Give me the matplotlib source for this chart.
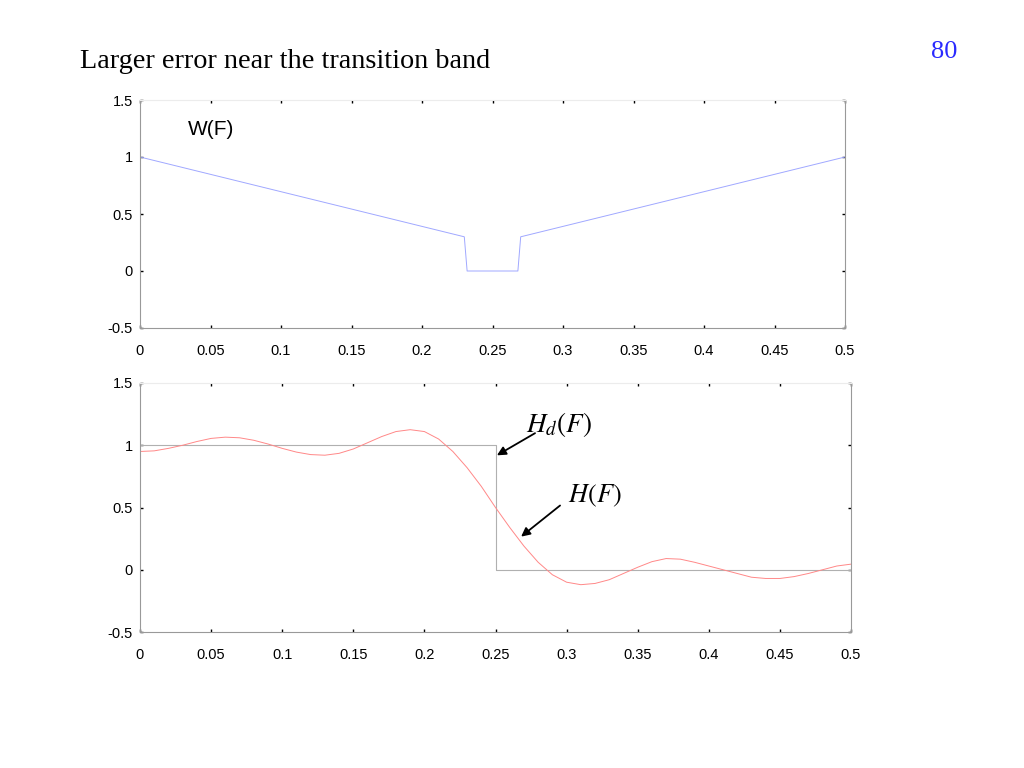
import matplotlib.pyplot as plt
import numpy as np

plt.rcParams['mathtext.fontset'] = 'stix'

# W(F) weighting function
w_f = [0.0, 0.23, 0.232, 0.268, 0.27, 0.5]
w_val = [1.0, 0.3, 0.0, 0.0, 0.3, 1.0]

# desired response Hd(F)
hd_f = [0.0, 0.25, 0.25, 0.5]
hd_val = [1.0, 1.0, 0.0, 0.0]

# designed response H(F), read at 0.01 steps
h_f = [i / 100. for i in range(51)]
h_val = [0.95, 0.955, 0.975, 1.00, 1.03, 1.055, 1.065, 1.06, 1.04, 1.01,
         0.975, 0.945, 0.925, 0.92, 0.935, 0.97, 1.02, 1.07, 1.11, 1.125,
         1.11, 1.05, 0.95, 0.82, 0.67, 0.50, 0.34, 0.19, 0.06, -0.04,
         -0.10, -0.12, -0.11, -0.08, -0.03, 0.02, 0.065, 0.09, 0.085, 0.06,
         0.03, 0.0, -0.03, -0.06, -0.07, -0.07, -0.055, -0.03, 0.0, 0.03,
         0.045]

xticks = [0, 0.05, 0.1, 0.15, 0.2, 0.25, 0.3, 0.35, 0.4, 0.45, 0.5]
xlabels = ['0', '0.05', '0.1', '0.15', '0.2', '0.25', '0.3', '0.35', '0.4', '0.45', '0.5']
yticks = [-0.5, 0, 0.5, 1, 1.5]
ylabels = ['-0.5', '0', '0.5', '1', '1.5']


def style_axes(ax):
    ax.set_xlim(0, 0.5)
    ax.set_ylim(-0.5, 1.5)
    ax.set_xticks(xticks)
    ax.set_xticklabels(xlabels, family='Liberation Sans', fontsize=10.5)
    ax.set_yticks(yticks)
    ax.set_yticklabels(ylabels, family='Liberation Sans', fontsize=10.5)
    ax.tick_params(direction='in', length=2.5, width=1, top=True, right=True,
                   colors='black')
    ax.tick_params(axis='x', pad=11.5)
    ax.tick_params(axis='y', pad=5)
    for s in ['left', 'bottom', 'right']:
        ax.spines[s].set_color('#999999')
    ax.spines['top'].set_color('#ececec')


fig = plt.figure(figsize=(10.24, 7.68), dpi=100)

fig.text(80 / 1024, 1 - 61 / 768, 'Larger error near the transition band',
         family='Liberation Serif', fontsize=20.3, va='center', ha='left')
fig.text(944 / 1024, 1 - 52 / 768, '80', family='Liberation Serif',
         fontsize=19, color='#2a2aff', va='center', ha='center')

ax1 = fig.add_axes([140 / 1024, 1 - 328 / 768, 705 / 1024, 228 / 768])
ax1.plot(w_f, w_val, color='#a0a8ff', lw=0.7)
style_axes(ax1)
ax1.text(0.034, 1.24, 'W(F)', family='Liberation Sans', fontsize=15,
         va='center')

ax2 = fig.add_axes([140 / 1024, 1 - 632 / 768, 711 / 1024, 249 / 768])
ax2.plot(hd_f, hd_val, color='#b0b0b0', lw=0.8)
ax2.plot(h_f, h_val, color='#ff8888', lw=0.7)
style_axes(ax2)

ax2.text(0.2947, 1.17, '$H_d(F)$', fontsize=19.5, ha='center', va='center')
ax2.annotate('', xy=(0.251, 0.919), xytext=(0.2778, 1.097),
             arrowprops=dict(arrowstyle='-|>', color='black', lw=1.3,
                             shrinkA=0, shrinkB=0, mutation_scale=13))
ax2.text(0.320, 0.59, '$H(F)$', fontsize=19, ha='center', va='center')
ax2.annotate('', xy=(0.268, 0.266), xytext=(0.2954, 0.516),
             arrowprops=dict(arrowstyle='-|>', color='black', lw=1.3,
                             shrinkA=0, shrinkB=0, mutation_scale=13))

plt.savefig('out.png', dpi=100)
